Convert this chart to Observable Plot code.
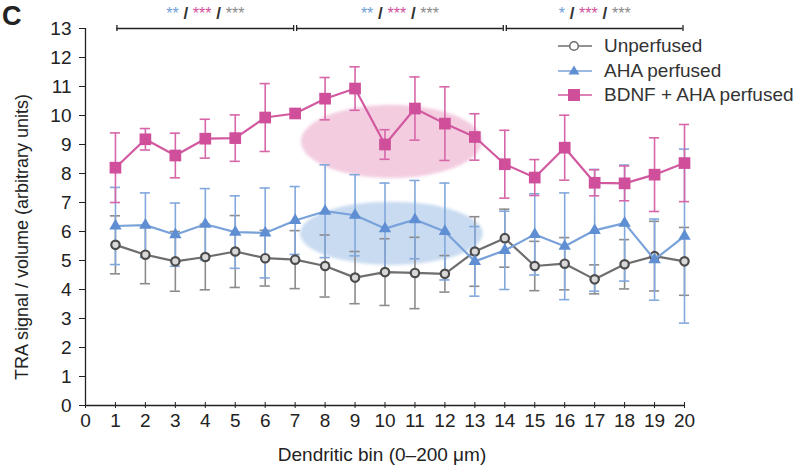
<!DOCTYPE html>
<html><head><meta charset="utf-8">
<script src="https://cdn.jsdelivr.net/npm/d3@7"></script>
<script src="https://cdn.jsdelivr.net/npm/@observablehq/plot@0.6"></script>
<style>
body{margin:0;background:#fff;font-family:"Liberation Sans",Arial,sans-serif;}
#wrap{position:relative;width:805px;height:470px;}
#panel{position:absolute;left:2px;top:1px;font-size:27px;font-weight:bold;color:#222;}
#legend{position:absolute;left:556px;top:34px;font-size:19px;color:#333;}
.item{display:flex;align-items:center;height:24.5px;white-space:nowrap;}
.item svg{margin-right:10px;}
</style></head><body>
<div id="wrap"><div id="chart"></div><div id="panel">C</div><div id="legend"></div></div>
<script>
// ---- data ----
const bins = [1,2,3,4,5,6,7,8,9,10,11,12,13,14,15,16,17,18,19,20];
const seriesNames = ["Unperfused","AHA perfused","BDNF + AHA perfused"];
const unperfused    = [5.54,5.20,4.97,5.12,5.31,5.08,5.03,4.81,4.41,4.60,4.57,4.54,5.31,5.77,4.81,4.89,4.35,4.87,5.15,4.97];
const unperfusedErr = [1.00,1.00,1.03,1.13,1.24,0.96,1.00,1.07,0.90,1.15,1.23,0.63,1.20,1.00,0.85,0.90,0.50,0.85,1.20,1.17];
const aha           = [6.19,6.22,5.89,6.25,5.98,5.95,6.38,6.70,6.56,6.10,6.41,6.00,4.97,5.35,5.90,5.49,6.04,6.29,5.03,5.84];
const ahaErr        = [1.33,1.11,1.09,1.23,1.25,1.55,1.17,1.60,1.40,1.57,1.35,1.67,1.20,1.35,1.40,1.84,2.10,2.00,1.40,3.00];
const bdnf          = [8.20,9.18,8.62,9.20,9.22,9.93,10.07,10.58,10.93,9.00,10.24,9.72,9.26,8.32,7.86,8.89,7.68,7.66,7.96,8.36];
const bdnfErr       = [1.20,0.37,0.77,0.67,0.80,1.17,0.15,0.73,0.75,0.51,1.09,1.27,0.80,1.17,0.62,1.12,0.45,0.60,1.27,1.33];
const xTicks = [0,1,2,3,4,5,6,7,8,9,10,11,12,13,14,15,16,17,18,19,20];
const yTicks = [0,1,2,3,4,5,6,7,8,9,10,11,12,13];
// significance brackets
const bracketStart = [1,7,14];
const bracketEnd   = [7,14,20];
const bracketLevel = 13;
const sigCenters = [4,10.5,17];
const sigStars = [["**","***","***"],["**","***","***"],["*","***","***"]];
// highlight ellipses (center x, center y, radius x, radius y)
const blobCx = [10.23,10.23];
const blobCy = [9.09,5.92];
const blobRx = [3.02,3.05];
const blobRy = [1.26,1.09];

// ---- styles ----
const col = {"Unperfused":"#4d4d4d","AHA perfused":"#5f8fd2","BDNF + AHA perfused":"#cf4f9b"};
const lineCol = {"Unperfused":"#6e6e6e","AHA perfused":"#7aa2da","BDNF + AHA perfused":"#d2599f"};
const errCol = {"Unperfused":"#8c8c8c","AHA perfused":"#82a8dc","BDNF + AHA perfused":"#d766a8"};
const blobFill = ["#f1c3da","#bfd5ef"];
const starCol = ["#6f9fd8","#cf4f9b","#8a8a8a"];
const capHalf = 0.17;
const svgns = "http://www.w3.org/2000/svg";

const means = [unperfused, aha, bdnf], errs = [unperfusedErr, ahaErr, bdnfErr];
const rows = seriesNames.map((s, k) => bins.map((b, i) => ({series:s, bin:b, mean:means[k][i], err:errs[k][i]})));
const blobs = blobCx.map((cx, i) => ({cx, cy:blobCy[i], rx:blobRx[i], ry:blobRy[i], fill:blobFill[i]}));
const brackets = bracketStart.map((s, i) => ({x1:s, x2:bracketEnd[i]}));
const sig = sigCenters.map((x, i) => ({x, parts:sigStars[i]}));

function seriesMarks(k) {
  const s = seriesNames[k], data = rows[k];
  return [
    Plot.ruleX(data, {x:"bin", y1:d=>d.mean-d.err, y2:d=>d.mean+d.err, stroke:errCol[s], strokeWidth:1.6}),
    Plot.ruleY(data, {y:d=>d.mean+d.err, x1:d=>d.bin-capHalf, x2:d=>d.bin+capHalf, stroke:errCol[s], strokeWidth:1.6}),
    Plot.ruleY(data, {y:d=>d.mean-d.err, x1:d=>d.bin-capHalf, x2:d=>d.bin+capHalf, stroke:errCol[s], strokeWidth:1.6}),
  ];
}
function seriesLine(k, symbol, r, fill, sw) {
  const s = seriesNames[k], data = rows[k];
  return [
    Plot.line(data, {x:"bin", y:"mean", stroke:lineCol[s], strokeWidth:2.2}),
    Plot.dot(data, {x:"bin", y:"mean", symbol, r, fill, stroke: sw ? col[s] : "none", strokeWidth: sw || 0})
  ];
}

const chart = Plot.plot({
  width:805, height:470,
  marginLeft:85, marginRight:121, marginTop:28, marginBottom:65,
  x:{domain:[0,20]}, y:{domain:[0,13]},
  style:{fontFamily:"'Liberation Sans', Arial, sans-serif", color:"#222", overflow:"visible", background:"#fff"},
  marks:[
    // ellipses
    Plot.dot(blobs, {x:"cx", y:"cy", render(index, scales) {
      const g = document.createElementNS(svgns, "g");
      g.setAttribute("style", "filter:blur(1.5px)");
      for (const i of index) {
        const d = blobs[i];
        const e = document.createElementNS(svgns, "ellipse");
        const cx = scales.x(d.cx), cy = scales.y(d.cy);
        e.setAttribute("cx", cx); e.setAttribute("cy", cy);
        e.setAttribute("rx", Math.abs(scales.x(d.cx + d.rx) - cx));
        e.setAttribute("ry", Math.abs(scales.y(d.cy + d.ry) - cy));
        e.setAttribute("fill", d.fill); e.setAttribute("fill-opacity", 0.85);
        g.append(e);
      }
      return g;
    }}),
    // axes
    Plot.ruleY([0], {x1:0, x2:20, stroke:"#222", strokeWidth:1.3}),
    Plot.ruleX([0], {y1:0, y2:13, stroke:"#222", strokeWidth:1.3}),
    Plot.axisY(yTicks, {tickSize:6, tickPadding:8, fontSize:19, label:null, stroke:"#222"}),
    Plot.axisX(xTicks, {tickSize:6, dy:-3, tickPadding:5, fontSize:19, label:null, stroke:"#222"}),
    Plot.text(["TRA signal / volume (arbitrary units)"], {frameAnchor:"left", textAnchor:"middle", rotate:-90, dx:-63, dy:20, text:d=>d, fontSize:18, fill:"#222"}),
    Plot.text(["Dendritic bin (0\u2013200 \u03bcm)"], {frameAnchor:"bottom", dy:55, dx:-3, text:d=>d, fontSize:19, fill:"#222"}),
    // brackets
    Plot.ruleY(brackets, {y:bracketLevel, x1:"x1", x2:"x2", insetLeft:1.5, insetRight:1.5, stroke:"#222", strokeWidth:1.3}),
    Plot.ruleX(brackets, {x:"x1", y1:bracketLevel-0.1, y2:bracketLevel+0.1, dx:1.5, stroke:"#222", strokeWidth:1.3}),
    Plot.ruleX(brackets, {x:"x2", y1:bracketLevel-0.1, y2:bracketLevel+0.1, dx:-1.5, stroke:"#222", strokeWidth:1.3}),
    Plot.text(sig, {x:"x", y:bracketLevel, text:d=>d.parts.join(" / "), dy:-15, fontSize:16,
      render(index, scales, values, dims, context, next) {
        const g = next(index, scales, values, dims, context);
        g.querySelectorAll("text").forEach((t, j) => {
          const d = sig[index[j]];
          t.textContent = "";
          d.parts.forEach((p, k) => {
            if (k > 0) {
              const sl = document.createElementNS(svgns, "tspan");
              sl.textContent = " / "; sl.setAttribute("fill", "#333");
              sl.setAttribute("font-size", 17); sl.setAttribute("font-weight", "bold");
              t.append(sl);
            }
            const st = document.createElementNS(svgns, "tspan");
            st.textContent = p; st.setAttribute("fill", starCol[k]);
            t.append(st);
          });
        });
        return g;
      }}),
    // series
    ...seriesMarks(0), ...seriesMarks(1), ...seriesMarks(2),
    ...seriesLine(0, "circle", 4.2, "#d9d9d9", 2.2),
    ...seriesLine(1, "triangle", 4.6, col["AHA perfused"]),
    ...seriesLine(2, "square", 6.6, col["BDNF + AHA perfused"])
  ]
});
document.getElementById("chart").append(chart);

// legend
const legend = document.getElementById("legend");
const legendSym = [
  (c) => `<circle cx="18" cy="12" r="4.3" fill="#fff" stroke="${c}" stroke-width="1.6"/>`,
  (c) => `<path d="M18,6.5 L23.5,15.5 L12.5,15.5 Z" fill="${c}"/>`,
  (c) => `<rect x="12" y="6" width="12" height="12" fill="${c}"/>`
];
seriesNames.forEach((s, k) => {
  const div = document.createElement("div");
  div.className = "item";
  div.innerHTML = `<svg width="38" height="24"><line x1="2" x2="36" y1="12" y2="12" stroke="${lineCol[s]}" stroke-width="1.6"/>${legendSym[k](k===0?"#6e6e6e":col[s])}</svg><span>${s}</span>`;
  legend.append(div);
});
</script>
</body></html>
